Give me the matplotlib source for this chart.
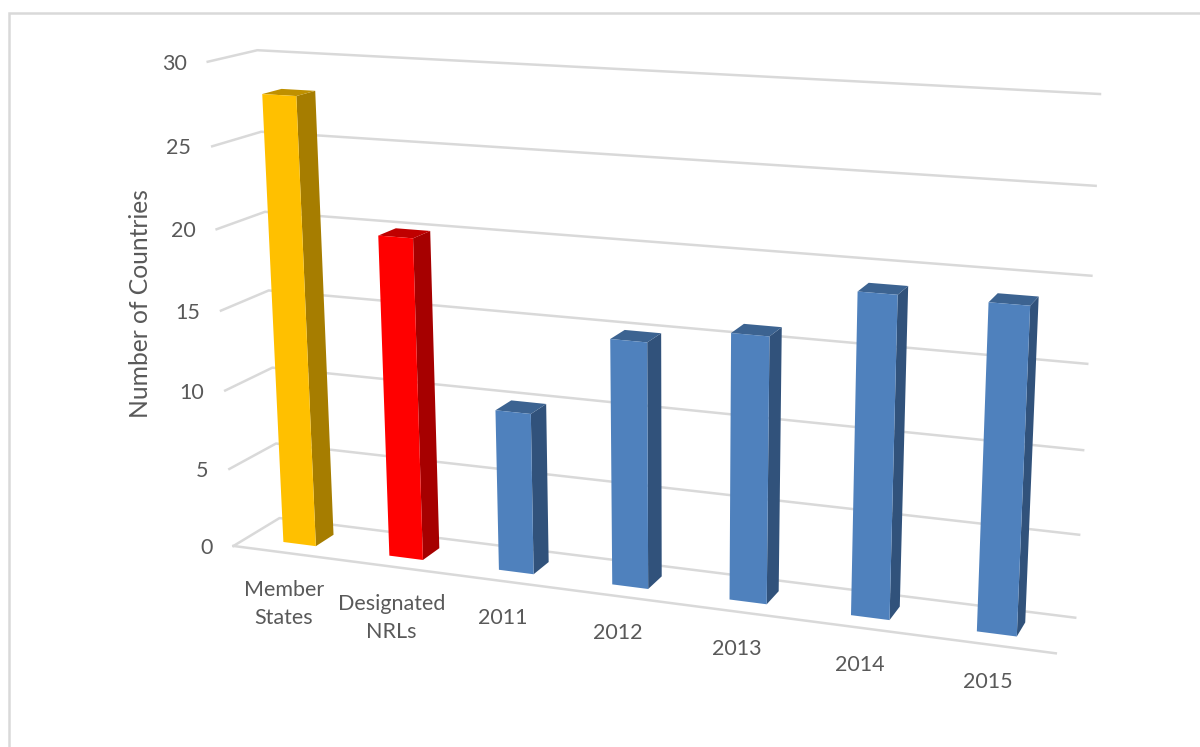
import matplotlib
matplotlib.use('Agg')
import matplotlib.pyplot as plt
import numpy as np

plt.rcParams['font.family'] = ['Lato', 'DejaVu Sans']

categories = ['Member\nStates', 'Designated\nNRLs', '2011', '2012', '2013', '2014', '2015']
values = [28, 20, 10, 15, 16, 19, 19]
yTicks = [0, 5, 10, 15, 20, 25, 30]
yLabel = 'Number of Countries'

frontColors = ['#FFC000', '#FF0000', '#4F81BD', '#4F81BD', '#4F81BD', '#4F81BD', '#4F81BD']
sideColors = ['#A67D00', '#A60000', '#31527B', '#31527B', '#31527B', '#31527B', '#31527B']
topColors = ['#BF9000', '#BF0000', '#3C6391', '#3C6391', '#3C6391', '#3C6391', '#3C6391']

gridColor = '#D9D9D9'
textColor = '#595959'
barWidth = 0.31
depthFront = 0.3
depthBack = 0.7

# box corners (category position, value, depth) and where they land in the image
boxCorners = [
    (0, 0, 0), (7, 0, 0), (0, 0, 1), (7, 0, 1),
    (0, 30, 0), (0, 30, 1), (7, 30, 1),
]
boxPixels = [
    (233, 546), (1056, 653), (280, 518), (1075, 618),
    (208, 62), (257, 50), (1100, 94),
]


def fitCamera(corners, pixels):
    rows = []
    for (x, y, z), (u, v) in zip(corners, pixels):
        rows.append([x, y, z, 1, 0, 0, 0, 0, -u * x, -u * y, -u * z, -u])
        rows.append([0, 0, 0, 0, x, y, z, 1, -v * x, -v * y, -v * z, -v])
    _, _, vt = np.linalg.svd(np.array(rows, dtype=float))
    return vt[-1].reshape(3, 4)


camera = fitCamera(boxCorners, boxPixels)


def project(x, y, z):
    u, v, w = camera @ np.array([x, y, z, 1.0])
    return u / w, v / w


fig = plt.figure(figsize=(12, 7.47), dpi=100)
ax = fig.add_axes([0, 0, 1, 1])
ax.set_xlim(0, 1200)
ax.set_ylim(747, 0)
ax.axis('off')

# chart border, only left and top are in frame
ax.plot([9, 9, 1200], [747, 13, 13], color=gridColor, lw=1.8, solid_joinstyle='miter')

for tick in yTicks:
    start = project(0, tick, 0)
    corner = project(0, tick, 1)
    end = project(7, tick, 1)
    ax.plot([start[0], corner[0], end[0]], [start[1], corner[1], end[1]],
            color=gridColor, lw=1.8, zorder=1)
    ax.text(start[0] - 21, start[1] + 2, str(tick), ha='right', va='center',
            fontsize=15.5, color=textColor)

floorStart = project(0, 0, 0)
floorEnd = project(7, 0, 0)
ax.plot([floorStart[0], floorEnd[0]], [floorStart[1], floorEnd[1]], color=gridColor, lw=1.8, zorder=1)

ax.text(141, 304, yLabel, rotation=90, ha='center', va='center', fontsize=17.7, color=textColor)

for i, value in enumerate(values):
    left = i + 0.5 - barWidth / 2
    right = i + 0.5 + barWidth / 2
    front = [project(left, 0, depthFront), project(right, 0, depthFront),
             project(right, value, depthFront), project(left, value, depthFront)]
    side = [project(right, 0, depthFront), project(right, 0, depthBack),
            project(right, value, depthBack), project(right, value, depthFront)]
    top = [project(left, value, depthFront), project(right, value, depthFront),
           project(right, value, depthBack), project(left, value, depthBack)]
    ax.fill(*zip(*side), color=sideColors[i], lw=0, zorder=2)
    ax.fill(*zip(*top), color=topColors[i], lw=0, zorder=2)
    ax.fill(*zip(*front), color=frontColors[i], lw=0, zorder=3)

    labelX, labelY = project(i + 0.5, 0, 0)
    ax.text(labelX - 2, labelY + 27, categories[i], ha='center', va='top',
            fontsize=15.5, color=textColor, linespacing=1.5)

fig.savefig('out.png', dpi=100)
